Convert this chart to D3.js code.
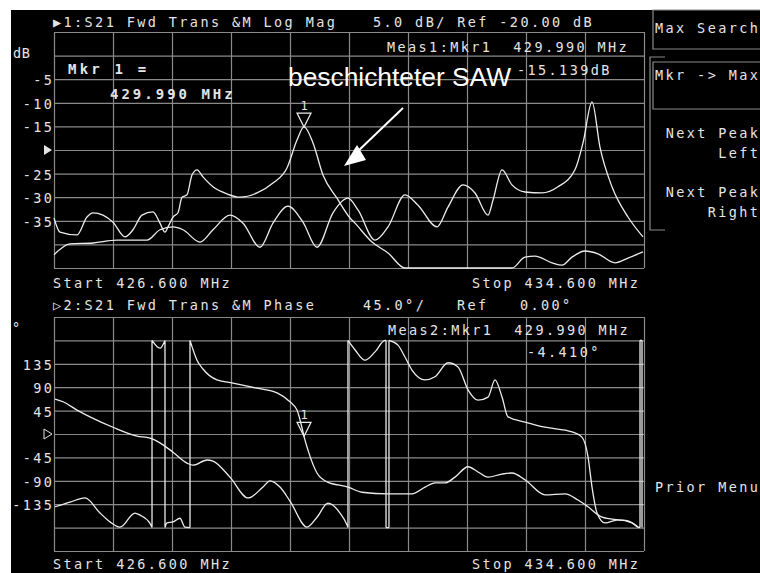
<!DOCTYPE html>
<html><head><meta charset="utf-8">
<script src="https://cdn.jsdelivr.net/npm/d3@7"></script>
<style>html,body{margin:0;padding:0;background:#fff;}svg{display:block;}text{white-space:pre;}</style>
</head><body>
<script>
// ---------- DATA ----------
const startMHz = 426.6, stopMHz = 434.6;
const markerMHz = 429.990, markerDb = -15.139, markerDeg = -4.410;
const magTickValues = [-5, -10, -15, -25, -30, -35];
const magRefDb = -20;
const phaseTickValues = [135, 90, 45, -45, -90, -135];
const phaseRefDeg = 0;

// Log Mag trace 1 (coated SAW, marker trace)
const magAFreq = [426.600,426.681,426.912,427.047,427.129,427.264,427.400,427.563,427.671,427.793,427.942,428.037,428.105,428.146,428.214,428.281,428.336,428.403,428.471,428.539,428.620,428.756,428.946,429.122,429.353,429.569,429.759,429.895,429.990,430.112,430.247,430.437,430.614,430.681,430.912,431.129,431.359,432.810,432.986,433.122,433.353,433.488,433.624,433.800,433.976,434.207,434.383,434.586];
const magADb = [-34.4,-37.4,-38.0,-34.2,-33.3,-33.8,-35.3,-38.4,-36.9,-33.8,-33.1,-35.5,-37.4,-36.3,-34.2,-33.3,-30.0,-29.5,-25.3,-24.2,-25.7,-27.8,-29.3,-30.0,-29.1,-27.0,-23.8,-17.9,-15.1,-18.5,-25.3,-30.2,-34.4,-35.5,-39.5,-41.8,-45.0,-45.0,-42.7,-42.5,-43.9,-44.4,-42.7,-41.4,-42.0,-43.9,-42.9,-41.6];
// Log Mag trace 2
const magBFreq = [426.600,426.817,427.129,427.454,427.861,428.037,428.214,428.349,428.580,428.756,428.986,429.163,429.393,429.569,429.773,429.976,430.166,430.383,430.586,430.722,430.953,431.129,431.359,431.536,431.793,431.942,432.146,432.308,432.485,432.553,432.675,432.810,432.986,433.217,433.434,433.664,433.773,433.895,434.003,434.166,434.383,434.586];
const magBDb = [-42.2,-39.9,-39.7,-39.1,-39.1,-36.9,-36.3,-36.9,-39.5,-36.9,-33.8,-35.5,-40.6,-35.5,-31.9,-35.3,-40.6,-33.3,-30.2,-32.7,-39.1,-36.3,-29.5,-31.7,-36.3,-32.1,-27.4,-29.1,-33.8,-30.6,-24.2,-27.4,-28.9,-29.1,-27.8,-24.2,-18.5,-9.8,-19.4,-27.8,-34.2,-38.4];

// Phase trace 1 (coated SAW, marker trace) – wraps at ±180
const phAFreq = [426.614,426.817,427.020,427.224,427.359,427.495,427.698,427.766,427.902,427.929,427.929,428.037,428.105,428.105,428.132,428.214,428.308,428.376,428.444,428.444,428.539,428.620,428.810,429.027,429.353,429.624,429.800,429.895,429.976,429.990,430.044,430.166,430.302,430.586,430.776,431.129,431.454,431.631,431.766,431.902,432.037,432.214,432.349,432.485,432.675,432.810,432.986,433.258,433.529,433.705,433.841,434.031,434.247,434.383,434.519];
const phADeg = [-140,-131,-123,-152,-169,-179,-152,-156,-172,-180,180,165,180,-180,-171,-169,-162,-179,-180,180,142,125,104,98,88,79,62,46,4,-4.4,-31,-75,-92,-102,-112,-115,-115,-102,-94,-94,-83,-63,-73,-83,-77,-75,-88,-117,-115,-127,-140,-160,-165,-167,-179];
// Phase trace 2
const phBFreq = [426.614,426.722,426.912,427.088,427.400,427.725,427.902,428.037,428.214,428.403,428.485,428.675,428.756,428.986,429.231,429.434,429.529,429.664,429.800,430.031,430.166,430.315,430.478,430.573,430.586,430.586,430.681,430.817,430.953,431.088,431.102,431.102,431.142,431.142,431.264,431.359,431.454,431.631,431.766,431.942,432.078,432.214,432.349,432.485,432.580,432.675,432.756,432.986,433.258,433.624,433.759,433.841,433.895,433.963,434.071,434.247,434.437,434.519,434.546,434.546,434.573,434.573];
const phBDeg = [67,62,46,33,13,-4,-8,-17,-35,-56,-60,-50,-52,-83,-123,-102,-90,-102,-129,-179,-160,-133,-152,-175,-180,180,162,142,158,180,180,-180,-180,180,171,148,123,104,110,137,129,85,65,71,104,71,33,23,13,4,-6,-44,-102,-152,-171,-165,-171,-179,-180,180,180,-180];

// ---------- LAYOUT ----------
const W = 760, H = 573;
const svg = d3.select("body").append("svg").attr("width", W).attr("height", H);
const MONO = "'DejaVu Sans Mono', monospace";
const TXT = "#e4e4e4", GRID = "#8a8a8a", TRACE = "#ececec";

svg.append("rect").attr("width", W).attr("height", H).attr("fill", "#fff");
svg.append("rect").attr("x", 11).attr("y", 10).attr("width", W - 11).attr("height", H - 10).attr("fill", "#000");

const x = d3.scaleLinear().domain([startMHz, stopMHz]).range([54, 644]);
const yMag = d3.scaleLinear().domain([magRefDb + 25, magRefDb - 25]).range([32, 268]);
const yPh = d3.scaleLinear().domain([phaseRefDeg + 225, phaseRefDeg - 225]).range([317, 551]);

const xDivs = d3.range(11).map(i => startMHz + i * (stopMHz - startMHz) / 10);

function text(str, tx, ty, o = {}) {
  const t = svg.append("text").attr("x", tx).attr("y", ty).text(str)
    .attr("xml:space", "preserve")
    .attr("fill", o.fill || TXT)
    .style("font-family", o.family || MONO)
    .style("font-size", (o.size || 13.5) + "px")
    .style("letter-spacing", (o.ls !== undefined ? o.ls : 2.4) + "px")
    .attr("text-anchor", o.anchor || "start");
  if (o.weight) t.style("font-weight", o.weight);
  if (o.len) t.attr("textLength", o.len).attr("lengthAdjust", "spacingAndGlyphs");
  return t;
}

function grid(yScale, y0, y1, step) {
  const g = svg.append("g");
  const ax = d3.axisBottom(x).tickValues(xDivs).tickSize(-(y1 - y0)).tickFormat("");
  g.append("g").attr("transform", `translate(0,${y1})`).call(ax)
    .call(s => s.select(".domain").remove())
    .call(s => s.selectAll("line").attr("stroke", GRID).attr("stroke-width", 1.2));
  const yVals = d3.range(11).map(i => yScale.domain()[0] - i * step);
  const ay = d3.axisLeft(yScale).tickValues(yVals).tickSize(-(644 - 54)).tickFormat("");
  g.append("g").attr("transform", `translate(54,0)`).call(ay)
    .call(s => s.select(".domain").remove())
    .call(s => s.selectAll("line").attr("stroke", GRID).attr("stroke-width", 1.2));
}
grid(yMag, 32, 268, 5);
grid(yPh, 317, 551, 45);

// ---------- TRACES ----------
// split into runs of increasing frequency; equal frequencies become vertical wrap lines
function trace(fr, vals, yScale) {
  const pts = fr.map((f, i) => [f, vals[i]]);
  const runs = [[pts[0]]];
  for (let i = 1; i < pts.length; i++) {
    if (pts[i][0] === pts[i - 1][0]) runs.push([pts[i]]);
    else runs[runs.length - 1].push(pts[i]);
  }
  const ln = d3.line().x(d => x(d[0])).y(d => yScale(d[1])).curve(d3.curveMonotoneX);
  let d = "";
  runs.forEach((r, k) => {
    if (k > 0) {
      const p = runs[k - 1][runs[k - 1].length - 1];
      d += `M${x(p[0])},${yScale(p[1])}L${x(r[0][0])},${yScale(r[0][1])}`;
    }
    if (r.length > 1) d += ln(r);
  });
  svg.append("path").attr("d", d)
    .attr("fill", "none").attr("stroke", TRACE).attr("stroke-width", 1.3)
    .attr("stroke-linejoin", "round");
}
trace(magBFreq, magBDb, yMag);
trace(magAFreq, magADb, yMag);
trace(phBFreq, phBDeg, yPh);
trace(phAFreq, phADeg, yPh);

// ---------- MARKERS ----------
function marker(yv) {
  const mx = x(markerMHz);
  svg.append("path").attr("d", `M${mx - 7},${yv - 14}L${mx + 7},${yv - 14}L${mx},${yv}Z`)
    .attr("fill", "none").attr("stroke", TRACE).attr("stroke-width", 1.2);
  text("1", mx, yv - 17, { anchor: "middle", size: 12, ls: 0 });
}
marker(yMag(markerDb));
marker(yPh(markerDeg));

// ---------- TEXT: TOP PANEL ----------
text("\u25B61:S21 Fwd Trans &M Log Mag", 53, 27);
text("5.0 dB/ Ref -20.00 dB", 373, 27);
text("Meas1:Mkr1  429.990 MHz", 387, 52);
text("-15.139dB", 517, 75);
text("dB", 13, 58, { ls: 0.5 });
magTickValues.forEach(v => text(String(v), 54.4, yMag(v) + 6, { anchor: "end" }));
svg.append("path").attr("d", `M44,${yMag(magRefDb) - 5}L52,${yMag(magRefDb)}L44,${yMag(magRefDb) + 5}Z`).attr("fill", TXT);
text("Start 426.600 MHz", 53, 288);
text("Stop 434.600 MHz", 640.4, 288, { anchor: "end" });

text("Mkr 1 =", 68, 74, { weight: "bold", size: 14, ls: 3.2 });
text("429.990 MHz", 110, 99, { weight: "bold", size: 14, ls: 3.0 });

text("beschichteter SAW", 288, 86, { family: "'Liberation Sans', Arial, sans-serif", size: 25, ls: 0, len: 223, fill: "#fff" });
svg.append("line").attr("x1", 403).attr("y1", 108).attr("x2", 356).attr("y2", 153).attr("stroke", "#fff").attr("stroke-width", 2);
svg.append("path").attr("d", "M344,166L357,145L366,160Z").attr("fill", "#fff");

// ---------- TEXT: PHASE PANEL ----------
text("\u25B72:S21 Fwd Trans &M Phase", 53, 310);
text("45.0\u00B0/", 363, 310);
text("Ref", 457, 310);
text("0.00\u00B0", 520, 310);
text("Meas2:Mkr1  429.990 MHz", 388, 335);
text("-4.410\u00B0", 527, 357);
text("\u00B0", 12, 333, { ls: 0 });
phaseTickValues.forEach(v => text(String(v), 54.4, yPh(v) + 6, { anchor: "end" }));
svg.append("path").attr("d", `M44,${yPh(phaseRefDeg) - 5}L52,${yPh(phaseRefDeg)}L44,${yPh(phaseRefDeg) + 5}Z`)
  .attr("fill", "none").attr("stroke", TXT).attr("stroke-width", 1);
text("Start 426.600 MHz", 53, 569);
text("Stop 434.600 MHz", 640.4, 569, { anchor: "end" });

// ---------- SOFTKEYS ----------
svg.append("path").attr("d", "M762,10L653,10L653,49L762,49").attr("fill", "none").attr("stroke", GRID).attr("stroke-width", 1.2);
text("Max Search", 655, 33);
svg.append("path").attr("d", "M665,57L650,57L650,230L665,230").attr("fill", "none").attr("stroke", GRID).attr("stroke-width", 1.2);
svg.append("path").attr("d", "M762,62L653,62L653,109L762,109").attr("fill", "none").attr("stroke", GRID).attr("stroke-width", 1.2);
text("Mkr -> Max", 655, 80);
text("Next Peak", 760.4, 138, { anchor: "end" });
text("Left", 760.4, 158, { anchor: "end" });
text("Next Peak", 760.4, 197, { anchor: "end" });
text("Right", 760.4, 217, { anchor: "end" });
text("Prior Menu", 655, 492);
</script>
</body></html>
